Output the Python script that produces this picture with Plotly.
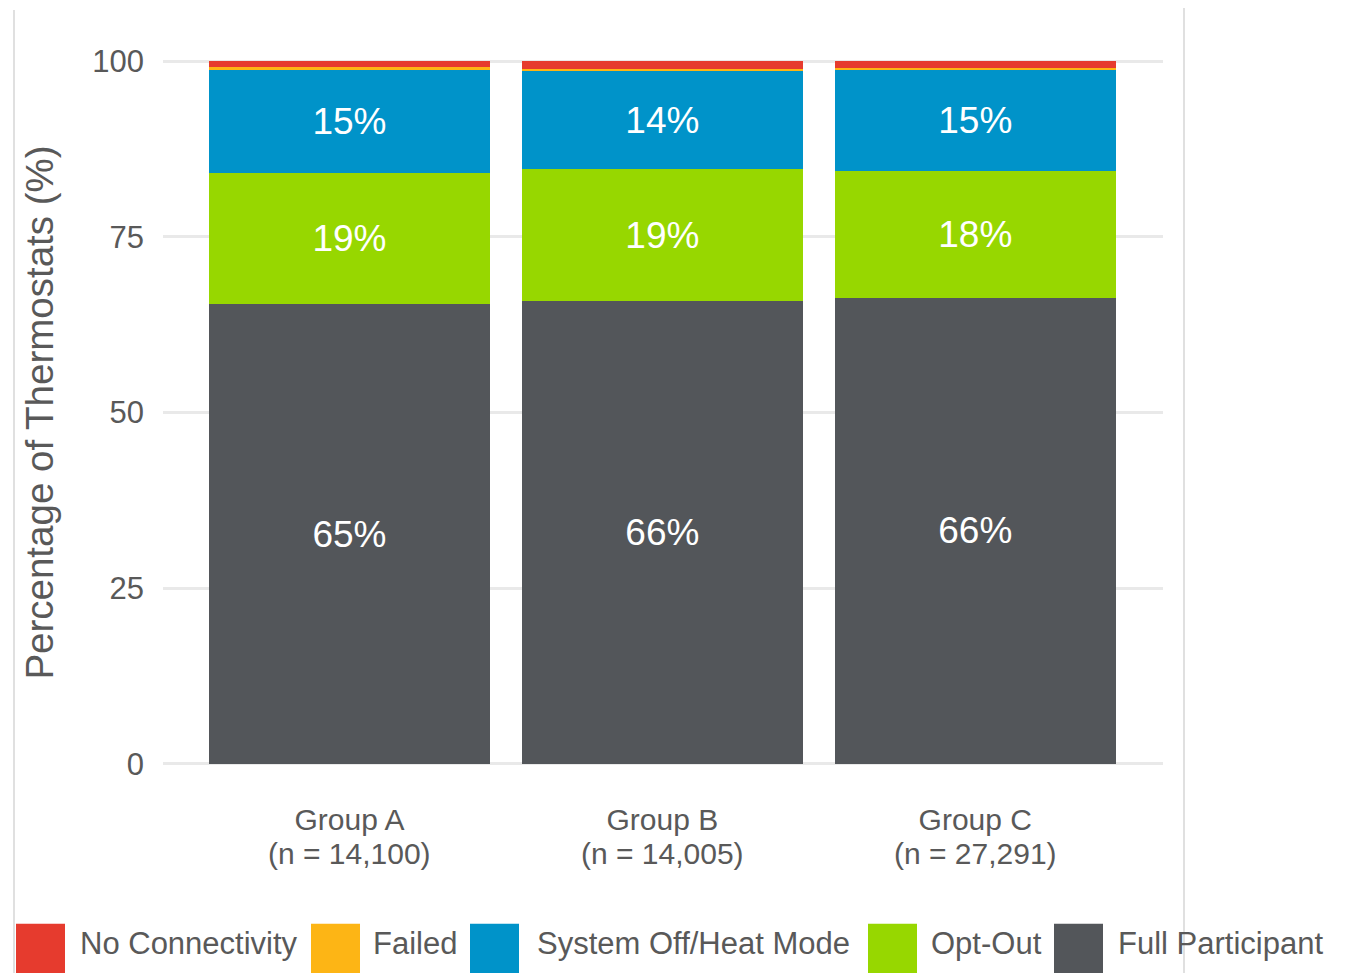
import plotly.graph_objects as go

group_names = ["Group A", "Group B", "Group C"]
group_n = ["(n = 14,100)", "(n = 14,005)", "(n = 27,291)"]
series_names = ["Full Participant", "Opt-Out", "System Off/Heat Mode", "Failed", "No Connectivity"]
full_participant = [65.4, 65.9, 66.3]
opt_out = [18.7, 18.7, 18.0]
system_off = [14.7, 14.0, 14.5]
failed = [0.3, 0.3, 0.2]
no_connectivity = [0.9, 1.1, 1.0]
y_ticks = [0, 25, 50, 75, 100]

series_values = [full_participant, opt_out, system_off, failed, no_connectivity]
colors = ["#53565A", "#97D700", "#0093C9", "#FDB515", "#E63B2E"]
show_labels = [True, True, True, False, False]

FONT = "Liberation Sans, Arial, sans-serif"
TXT = "#595959"

OFF = 8  # page body margin
W, H = 1349 - OFF, 973 - OFF
# page-pixel geometry of the plot area
L_pg, R_pg = 163, 1163
Y0_pg, Y100_pg = 764, 61
Y_LO, Y_HI = -0.3, 100.3
ppu = (Y0_pg - Y100_pg) / 100.0
T_pg = Y100_pg - (Y_HI - 100) * ppu
B_pg = Y0_pg + (0 - Y_LO) * ppu
L, R, T, B = L_pg - OFF, R_pg - OFF, T_pg - OFF, B_pg - OFF


def px(x_pg):
    return (x_pg - OFF - L) / (R - L)


def py(y_pg):
    return (B - (y_pg - OFF)) / (B - T)


fig = go.Figure()
for name, vals, col, lab in zip(series_names, series_values, colors, show_labels):
    fig.add_trace(go.Bar(
        x=group_names, y=vals, name=name,
        marker=dict(color=col, line=dict(width=0)),
        width=0.898,
        texttemplate="%{y:.0f}%" if lab else None,
        textposition="inside" if lab else "none",
        insidetextanchor="middle",
        textfont=dict(size=37, color="white", family=FONT),
        showlegend=False,
    ))

shapes = []
annotations = []
# second line of category labels
for g, n in zip(group_names, group_n):
    annotations.append(dict(text=n, xref="x", yref="paper", x=g, y=py(854),
                            xanchor="center", yanchor="middle", showarrow=False,
                            font=dict(size=30, color=TXT, family=FONT)))

# custom legend (legend order as in reference)
legend_order = ["No Connectivity", "Failed", "System Off/Heat Mode", "Opt-Out", "Full Participant"]
legend_sq_x = [16, 311, 470, 868, 1054]
legend_txt_x = [78, 371, 535, 929, 1116]
for nm, sx, tx in zip(legend_order, legend_sq_x, legend_txt_x):
    col = colors[series_names.index(nm)]
    shapes.append(dict(type="rect", xref="paper", yref="paper",
                       x0=px(sx), x1=px(sx + 49), y0=py(985), y1=py(924),
                       fillcolor=col, line=dict(width=0), layer="above"))
    annotations.append(dict(text=nm, xref="paper", yref="paper", x=px(tx), y=py(944),
                            xanchor="left", yanchor="middle", showarrow=False,
                            font=dict(size=31, color=TXT, family=FONT)))

# thin frame lines
shapes.append(dict(type="line", xref="paper", yref="paper", x0=px(14), x1=px(14),
                   y0=py(985), y1=py(10), line=dict(color="#cccccc", width=1.2)))
shapes.append(dict(type="line", xref="paper", yref="paper", x0=px(1184), x1=px(1184),
                   y0=py(985), y1=py(6), line=dict(color="#cccccc", width=1.2)))

fig.update_layout(
    width=W, height=H,
    margin=dict(l=L, r=W - R, t=T, b=H - B, pad=0),
    barmode="stack",
    plot_bgcolor="white", paper_bgcolor="white",
    font=dict(family=FONT, color=TXT, size=31),
    shapes=shapes, annotations=annotations,
    showlegend=False,
    xaxis=dict(range=[-0.596, 2.6], showgrid=False, zeroline=False, showline=False,
               tickfont=dict(size=30, color=TXT), ticks="", ticklabelstandoff=33,
               automargin=False),
    yaxis=dict(range=[Y_LO, Y_HI], tickvals=y_ticks, showgrid=True, gridcolor="#e9e9e9",
               gridwidth=3, zeroline=False, showline=False, ticks="",
               tickfont=dict(size=31, color=TXT), ticklabelstandoff=18,
               title=dict(text="Percentage of Thermostats (%)", standoff=26,
                          font=dict(size=38.5, color=TXT)),
               automargin=False),
)

fig.write_html("out.html")
